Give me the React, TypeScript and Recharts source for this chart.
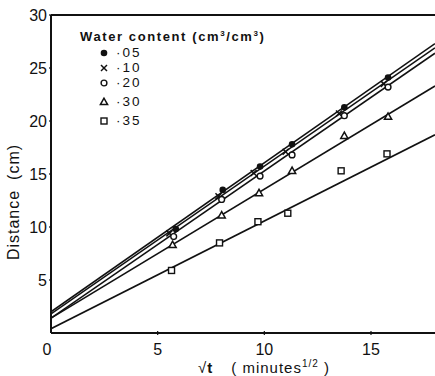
import { ScatterChart, Scatter, XAxis, YAxis, ReferenceLine, Label } from 'recharts'

const xs05 = [5.85, 8.05, 9.8, 11.3, 13.75, 15.8]
const ys05 = [9.8, 13.5, 15.7, 17.8, 21.3, 24.1]
const xs10 = [5.55, 7.85, 9.5, 11.0, 13.5, 15.6]
const ys10 = [9.4, 12.9, 15.1, 17.1, 20.7, 23.5]
const xs20 = [5.75, 8.0, 9.8, 11.3, 13.75, 15.8]
const ys20 = [9.1, 12.6, 14.8, 16.8, 20.5, 23.2]
const xs30 = [5.7, 8.0, 9.75, 11.3, 13.75, 15.8]
const ys30 = [8.3, 11.1, 13.2, 15.3, 18.6, 20.4]
const xs35 = [5.65, 7.9, 9.7, 11.1, 13.6, 15.75]
const ys35 = [5.9, 8.5, 10.5, 11.3, 15.3, 16.9]

// fitted lines: value at x = 0 and x = 18
const fitX = [0, 18]
const fit05 = [2.0, 27.3]
const fit10 = [1.8, 26.9]
const fit20 = [1.4, 26.4]
const fit30 = [1.4, 23.3]
const fit35 = [0.4, 18.7]

const xTicks = [0, 5, 10, 15]
const yTicks = [5, 10, 15, 20, 25, 30]
const legendLabels = ['·05', '·10', '·20', '·30', '·35']

const pts = (xs: number[], ys: number[]) => xs.map((x, i) => ({ x, y: ys[i] }))

const FONT = '"Liberation Sans", Arial, sans-serif'
const INK = '#111'

// ── marker shapes ─────────────────────────────────────────────────
type P = { cx?: number; cy?: number }
const FilledDot = ({ cx = 0, cy = 0 }: P) => <circle cx={cx} cy={cy} r={3.3} fill={INK} />
const OpenDot = ({ cx = 0, cy = 0 }: P) => <circle cx={cx} cy={cy} r={2.9} fill="#fff" stroke={INK} strokeWidth={1.4} />
const Cross = ({ cx = 0, cy = 0 }: P) => (
  <g stroke={INK} strokeWidth={1.5}>
    <line x1={cx - 3} y1={cy - 3} x2={cx + 3} y2={cy + 3} />
    <line x1={cx - 3} y1={cy + 3} x2={cx + 3} y2={cy - 3} />
  </g>
)
const Tri = ({ cx = 0, cy = 0 }: P) => (
  <polygon points={`${cx},${cy - 3.8} ${cx - 3.6},${cy + 2.6} ${cx + 3.6},${cy + 2.6}`} fill="#fff" stroke={INK} strokeWidth={1.5} />
)
const Square = ({ cx = 0, cy = 0 }: P) => (
  <rect x={cx - 3} y={cy - 3} width={6} height={6} fill="#fff" stroke={INK} strokeWidth={1.4} />
)
const NoDot = () => <g />
const markers = [FilledDot, Cross, OpenDot, Tri, Square]

const XTick = ({ x = 0, y = 0, payload }: { x?: number; y?: number; payload?: { value: number } }) => (
  <g>
    {payload && payload.value !== 0 && <line x1={x} y1={y} x2={x} y2={y - 4} stroke={INK} strokeWidth={1.2} />}
    <text x={payload?.value === 0 ? x - 4 : x} y={y + 20} textAnchor="middle" fontFamily={FONT} fontSize={16} fill={INK}>
      {payload?.value}
    </text>
  </g>
)

const YTick = ({ x = 0, y = 0, payload }: { x?: number; y?: number; payload?: { value: number } }) => (
  <g>
    <line x1={x} y1={y} x2={x + 3} y2={y} stroke={INK} strokeWidth={1.2} />
    <text x={x - 2} y={y + 6} textAnchor="end" fontFamily={FONT} fontSize={16} fill={INK}>
      {payload?.value}
    </text>
  </g>
)

const lineSeries = [fit05, fit10, fit20, fit30, fit35]
const pointSeries = [pts(xs05, ys05), pts(xs10, ys10), pts(xs20, ys20), pts(xs30, ys30), pts(xs35, ys35)]
const legendRows = [53, 68, 83, 102, 121]

export default function App() {
  return (
    <div style={{ position: 'absolute', left: 0, top: 0, width: 435, height: 376, background: '#fff' }}>
      <ScatterChart width={435} height={376} margin={{ top: 15, right: 0, bottom: 0, left: 0 }}>
        <XAxis
          type="number" dataKey="x" domain={[0, 18]} ticks={xTicks} allowDataOverflow
          axisLine={{ stroke: INK, strokeWidth: 2 }} tickLine={false} tickSize={0} tick={<XTick />} height={43}
        >
          <Label
            content={() => (
              <text x={198} y={373} fontFamily={FONT} fontSize={15} fill={INK} letterSpacing={1}>
                <tspan>√</tspan><tspan fontWeight="bold">t</tspan>
                <tspan dx={18}>( minutes</tspan>
                <tspan dy={-6} fontSize={10}>1/2</tspan>
                <tspan dy={6}> )</tspan>
              </text>
            )}
          />
        </XAxis>
        <YAxis
          type="number" dataKey="y" domain={[0, 30]} ticks={yTicks} allowDataOverflow
          axisLine={{ stroke: INK, strokeWidth: 2 }} tickLine={false} tickSize={0} tick={<YTick />} width={51}
        >
          <Label
            content={() => (
              <text x={19} y={202} transform="rotate(-90 19 202)" textAnchor="middle" fontFamily={FONT} fontSize={16} fill={INK} letterSpacing={1}>
                <tspan>Distance</tspan>
                <tspan dx={10}>(cm)</tspan>
              </text>
            )}
          />
        </YAxis>
        <ReferenceLine y={30} stroke={INK} strokeWidth={2} />
        {lineSeries.map((f, i) => (
          <Scatter
            key={'l' + i} data={pts(fitX, f)} shape={<NoDot />}
            line={{ stroke: INK, strokeWidth: 1.6 }} isAnimationActive={false}
          />
        ))}
        {pointSeries.map((d, i) => {
          const M = markers[i]
          return <Scatter key={'p' + i} data={d} shape={<M />} isAnimationActive={false} />
        })}
      </ScatterChart>

      {/* legend */}
      <div style={{ position: 'absolute', left: 80, top: 30, fontFamily: FONT, color: INK }}>
        <div style={{ fontSize: 13, fontWeight: 'bold', letterSpacing: 1.6, lineHeight: '14px', whiteSpace: 'nowrap' }}>
          Water content (cm<sup style={{ fontSize: 8, lineHeight: 0 }}>3</sup>/cm<sup style={{ fontSize: 8, lineHeight: 0 }}>3</sup>)
        </div>
        {legendRows.map((row, i) => {
          const M = markers[i]
          return (
            <div key={legendLabels[i]} style={{ position: 'absolute', left: 17, top: row - 30 - 6, height: 12, display: 'flex', alignItems: 'center', whiteSpace: 'nowrap' }}>
              <svg width={14} height={12}><M cx={7} cy={6} /></svg>
              <span style={{ marginLeft: 5, fontSize: 13.5, letterSpacing: 2, lineHeight: '12px' }}>{legendLabels[i]}</span>
            </div>
          )
        })}
      </div>
    </div>
  )
}
